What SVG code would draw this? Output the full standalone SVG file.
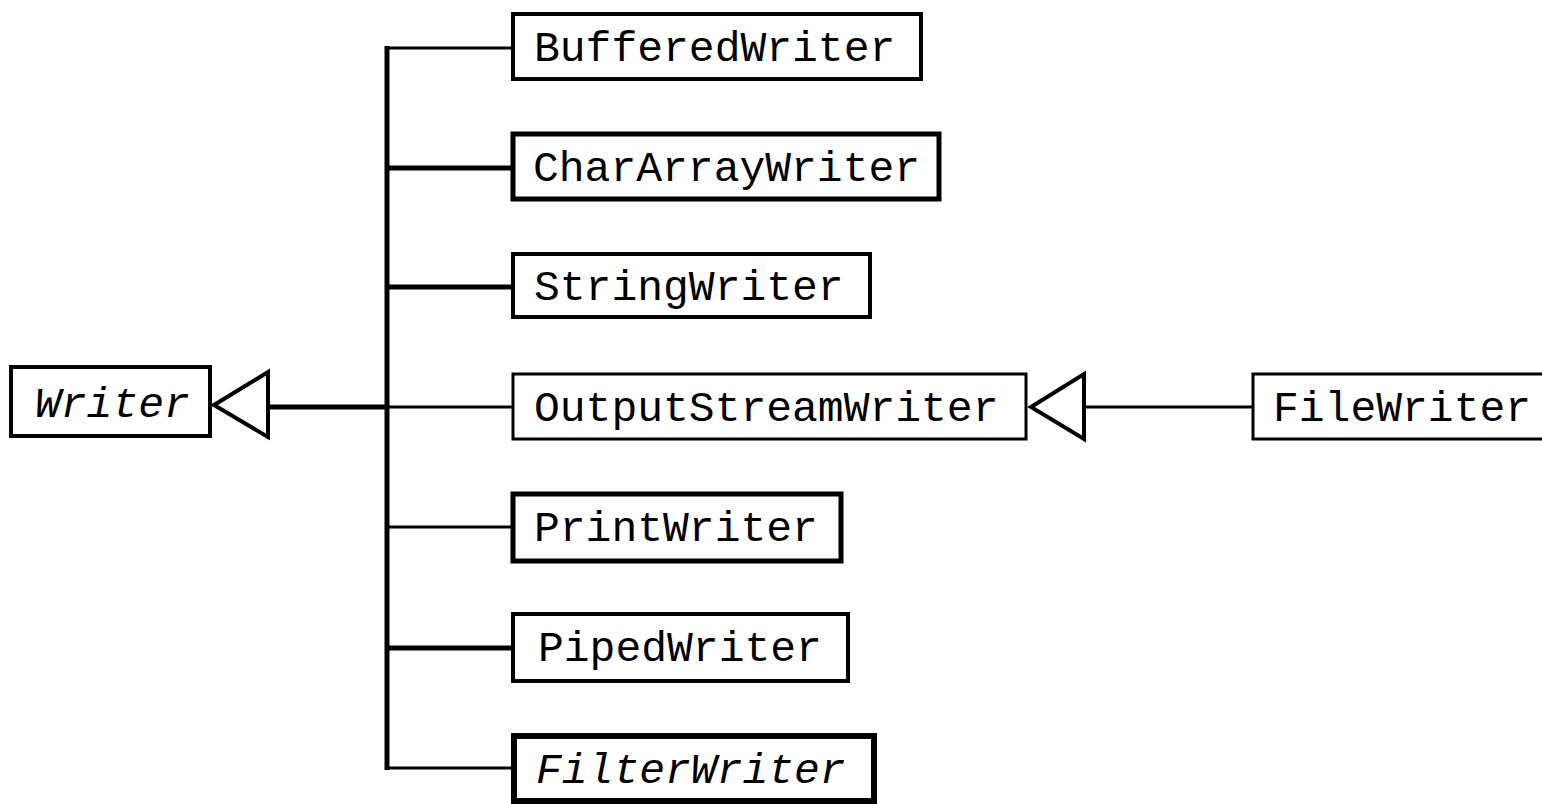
<svg xmlns="http://www.w3.org/2000/svg" width="1542" height="804" viewBox="0 0 1542 804">
<style>
.box{fill:#fff;stroke:#000}
.t{font-family:"Liberation Mono","Courier New",monospace;font-size:43px;fill:#000}
.i{font-style:italic}
.c{stroke:#000;fill:none}
.tri{fill:#fff;stroke:#000;stroke-width:4}
</style>
<rect width="1542" height="804" fill="#fff"/>
<g id="connectors">
<line class="c" x1="387" y1="46" x2="387" y2="770" stroke-width="5"/>
<line class="c" x1="268" y1="407" x2="387" y2="407" stroke-width="5"/>
<line class="c" x1="387" y1="48" x2="512" y2="48" stroke-width="3"/>
<line class="c" x1="387" y1="168" x2="512" y2="168" stroke-width="5"/>
<line class="c" x1="387" y1="287" x2="512" y2="287" stroke-width="5"/>
<line class="c" x1="387" y1="407" x2="512" y2="407" stroke-width="3"/>
<line class="c" x1="387" y1="527" x2="512" y2="527" stroke-width="3"/>
<line class="c" x1="387" y1="648" x2="512" y2="648" stroke-width="5"/>
<line class="c" x1="387" y1="768" x2="512" y2="768" stroke-width="3"/>
<line class="c" x1="1085" y1="407" x2="1252" y2="407" stroke-width="3"/>
<polygon class="tri" points="214,405 268,372 268,437"/>
<polygon class="tri" points="1031,407 1084,374 1084,439"/>
</g>
<g id="Writer"><rect class="box" x="11" y="367" width="199" height="69" stroke-width="4"/><text class="t i" x="35" y="417">Writer</text></g>
<g id="BufferedWriter"><rect class="box" x="513" y="14" width="408" height="65" stroke-width="4"/><text class="t" x="534" y="61">BufferedWriter</text></g>
<g id="CharArrayWriter"><rect class="box" x="513" y="134" width="426" height="65" stroke-width="5"/><text class="t" x="533" y="181">CharArrayWriter</text></g>
<g id="StringWriter"><rect class="box" x="513" y="254" width="357" height="63" stroke-width="4"/><text class="t" x="534" y="300">StringWriter</text></g>
<g id="OutputStreamWriter"><rect class="box" x="513" y="374" width="513" height="65" stroke-width="3"/><text class="t" x="534" y="421">OutputStreamWriter</text></g>
<g id="FileWriter"><rect class="box" x="1253" y="374" width="300" height="65" stroke-width="3"/><text class="t" x="1273" y="421">FileWriter</text></g>
<g id="PrintWriter"><rect class="box" x="513" y="494" width="328" height="67" stroke-width="5"/><text class="t" x="534" y="541">PrintWriter</text></g>
<g id="PipedWriter"><rect class="box" x="513" y="614" width="335" height="67" stroke-width="4"/><text class="t" x="538" y="661">PipedWriter</text></g>
<g id="FilterWriter"><rect class="box" x="514" y="736" width="360" height="65" stroke-width="6"/><text class="t i" x="536" y="783">FilterWriter</text></g>
</svg>
